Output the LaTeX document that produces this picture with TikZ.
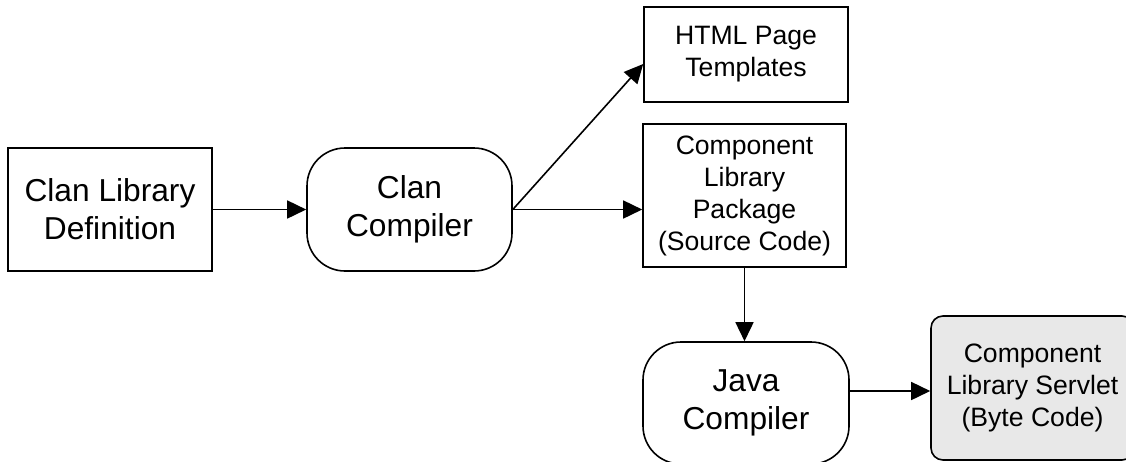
\documentclass[tikz,border=0pt]{standalone}
\usepackage{fontspec}
\setmainfont{Liberation Sans}
\usetikzlibrary{arrows.meta}

\begin{document}
\begin{tikzpicture}[x=1pt,y=-1pt]

    \tikzset{
      box/.style={
        draw,
        line width=1.6pt,
        align=center,
        inner sep=0pt,
      },
      bigtext/.style={font=\fontsize{31.7}{38}\selectfont},
      smalltext/.style={font=\fontsize{26.6}{32}\selectfont},
      compiler/.style={box, bigtext, rounded corners=38pt},
      flow/.style={line width=1.6pt, -{Triangle[length=19pt,width=18pt]}},
    }
    \clip (0,0) rectangle (1126,461);
	\node[box, bigtext, minimum width=204pt, minimum height=123pt] (libdef) at (110,209.5) {Clan Library\\Definition};
	\node[compiler, minimum width=205pt, minimum height=123pt] (clancomp) at (409.5,209.5) {Clan\\Compiler};
	\node[box, smalltext, minimum width=204pt, minimum height=95pt] (html) at (746,54.5) {HTML Page\\Templates};
	\node[box, smalltext, minimum width=203pt, minimum height=143pt] (pkg) at (744.5,195.5) {Component\\Library\\Package\\(Source Code)};
	\node[compiler, minimum width=206pt, minimum height=122pt] (javacomp) at (746,403) {Java\\Compiler};
	\node[box, smalltext, fill=gray!18, rounded corners=12pt, minimum width=203pt, minimum height=144pt] (servlet) at (1032.5,388) {Component\\Library Servlet\\(Byte Code)};

	\coordinate (jout) at ([yshift=12pt]javacomp.east);
	\draw[flow] (libdef.east) -- (clancomp.west);
	\draw[flow] (clancomp.east) -- ([yshift=-9.5pt]html.west);
	\draw[flow] (clancomp.east) -- (clancomp.east -| pkg.west);
	\draw[flow] (pkg.south) -- (pkg.south |- javacomp.north);
	\draw[flow] (jout) -- (jout -| servlet.west);

\end{tikzpicture}
\end{document}
